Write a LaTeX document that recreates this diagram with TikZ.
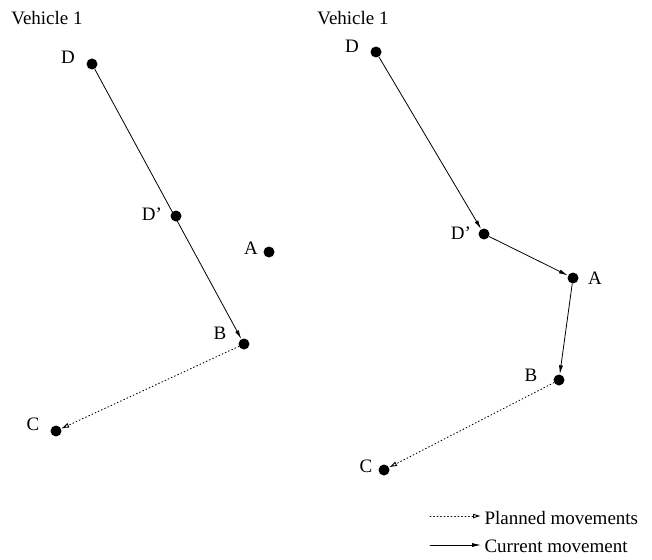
\documentclass[tikz,border=0pt]{standalone}
\usepackage{fontspec}
\setmainfont{Liberation Serif}
\usepackage{tikz}
\usetikzlibrary{arrows.meta}

\tikzset{
  dot/.style={circle,fill=black,inner sep=0pt,minimum size=11pt},
  lbl/.style={anchor=center,font=\fontsize{19}{22}\selectfont},
  current/.style={line width=0.8pt,-{Latex[length=9pt,width=4pt]}},
  planned/.style={line width=0.9pt,dash pattern=on 0.9pt off 2.6pt,-{Latex[open,length=8pt,width=5pt]}}
}

\begin{document}
\begin{tikzpicture}[line cap=round,line join=round,x=1pt,y=-1pt]
      \useasboundingbox (0,0) rectangle (652,559);
      % left picture
      \node[lbl] (lveh) at (47,18) {Vehicle 1};
      \node[dot] (lD) at (92,64) {};
      \node[dot] (lDp) at (176,216) {};
      \node[dot] (lA) at (269,252) {};
      \node[dot] (lB) at (244,344) {};
      \node[dot] (lC) at (56,431) {};
      \node[lbl] at (68,57) {D};
      \node[lbl] at (152,214) {D'};
      \node[lbl] at (251,248) {A};
      \node[lbl] at (220,333) {B};
      \node[lbl] at (33,424) {C};
      \draw[current] (lD) -- (lB);
      \draw[planned] (lB) -- (lC);

      % right picture
      \node[lbl] (rveh) at (353,18) {Vehicle 1};
      \node[dot] (rD) at (376,52) {};
      \node[dot] (rDp) at (484,234) {};
      \node[dot] (rA) at (573,278) {};
      \node[dot] (rB) at (559,380) {};
      \node[dot] (rC) at (384,470) {};
      \node[lbl] at (352,46) {D};
      \node[lbl] at (461,233) {D'};
      \node[lbl] at (595,278) {A};
      \node[lbl] at (531,375) {B};
      \node[lbl] at (366,466) {C};
      \draw[current] (rD) -- (rDp);
      \draw[current] (rDp) -- (rA);
      \draw[current] (rA) -- (rB);
      \draw[planned] (rB) -- (rC);

      % legend
      \node[lbl,anchor=west] (plan) at (481,518) {Planned movements};
      \node[lbl,anchor=west] (curr) at (481,546) {Current movement};
      \coordinate (plan0) at (430,516);
      \coordinate (curr0) at (430,545);
      \draw[planned] (plan0) -- (plan.west |- plan0);
      \draw[current] (curr0) -- (curr.west |- curr0);
\end{tikzpicture}
\end{document}
